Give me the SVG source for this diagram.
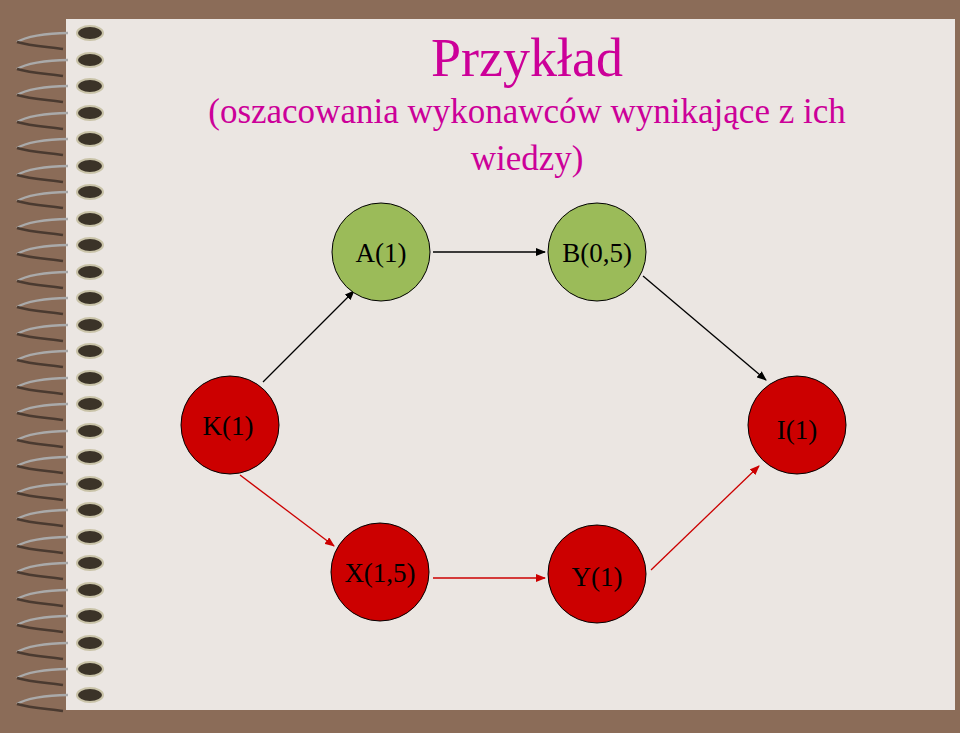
<svg xmlns="http://www.w3.org/2000/svg" width="960" height="733" viewBox="0 0 960 733">
<style>
.t{font-family:"Liberation Serif",serif;fill:#000;font-size:27px;text-anchor:middle}
.h{font-family:"Liberation Serif",serif;fill:#CC0099;text-anchor:middle}
.g{fill:#9BBB59;stroke:#000;stroke-width:1}
.r{fill:#CC0000;stroke:#000;stroke-width:1}
</style>
<defs>
<marker id="ab" markerWidth="10" markerHeight="8" refX="9" refY="4" orient="auto" markerUnits="userSpaceOnUse"><path d="M0,0L10,4L0,8z" fill="#000"/></marker>
<marker id="ar" markerWidth="10" markerHeight="8" refX="9" refY="4" orient="auto" markerUnits="userSpaceOnUse"><path d="M0,0L10,4L0,8z" fill="#CC0000"/></marker>
<g id="coil">
<path d="M68,4 C45,4 25,8 17,13" fill="none" stroke="#aaa" stroke-width="2.5"/>
<path d="M17,13 C30,17 50,18 63,20" fill="none" stroke="#4a3a30" stroke-width="2.5"/>
<ellipse cx="90" cy="4" rx="13" ry="7" fill="#3b3328" stroke="#c9c3a8" stroke-width="2"/>
</g>
</defs>
<rect width="960" height="733" fill="#8B6C58"/>
<rect x="66" y="19" width="889" height="691" fill="#EBE6E2"/>
<g id="binding">
<use href="#coil" y="29"/><use href="#coil" y="56"/><use href="#coil" y="82"/><use href="#coil" y="109"/><use href="#coil" y="135"/><use href="#coil" y="162"/><use href="#coil" y="188"/><use href="#coil" y="215"/><use href="#coil" y="241"/><use href="#coil" y="268"/><use href="#coil" y="294"/><use href="#coil" y="321"/><use href="#coil" y="347"/><use href="#coil" y="374"/><use href="#coil" y="400"/><use href="#coil" y="427"/><use href="#coil" y="453"/><use href="#coil" y="480"/><use href="#coil" y="506"/><use href="#coil" y="533"/><use href="#coil" y="559"/><use href="#coil" y="586"/><use href="#coil" y="612"/><use href="#coil" y="639"/><use href="#coil" y="665"/><use href="#coil" y="691"/>
</g>
<g id="title">
<text class="h" x="527" y="76" font-size="54">Przykład</text>
<text class="h" x="527" y="123" font-size="35">(oszacowania wykonawców wynikające z ich</text>
<text class="h" x="527" y="170" font-size="35">wiedzy)</text>
</g>
<g id="connectors" fill="none" stroke-width="1.3">
<line x1="263" y1="382" x2="354" y2="291" stroke="#000" marker-end="url(#ab)"/>
<line x1="433" y1="252" x2="545" y2="252" stroke="#000" marker-end="url(#ab)"/>
<line x1="643" y1="276" x2="766" y2="380" stroke="#000" marker-end="url(#ab)"/>
<line x1="240" y1="475" x2="334" y2="546" stroke="#CC0000" marker-end="url(#ar)"/>
<line x1="433" y1="578" x2="545" y2="578" stroke="#CC0000" marker-end="url(#ar)"/>
<line x1="651" y1="570" x2="759" y2="466" stroke="#CC0000" marker-end="url(#ar)"/>
</g>
<g id="nodeA"><circle class="g" cx="381" cy="252" r="49"/><text class="t" x="381" y="262">A(1)</text></g>
<g id="nodeB"><circle class="g" cx="597" cy="252" r="49"/><text class="t" x="597" y="262">B(0,5)</text></g>
<g id="nodeK"><circle class="r" cx="230" cy="425" r="49"/><text class="t" x="228" y="435">K(1)</text></g>
<g id="nodeI"><circle class="r" cx="797" cy="425" r="49"/><text class="t" x="797" y="439">I(1)</text></g>
<g id="nodeX"><circle class="r" cx="380" cy="572" r="49"/><text class="t" x="380" y="582">X(1,5)</text></g>
<g id="nodeY"><circle class="r" cx="597" cy="574" r="49"/><text class="t" x="597" y="586">Y(1)</text></g>
</svg>
